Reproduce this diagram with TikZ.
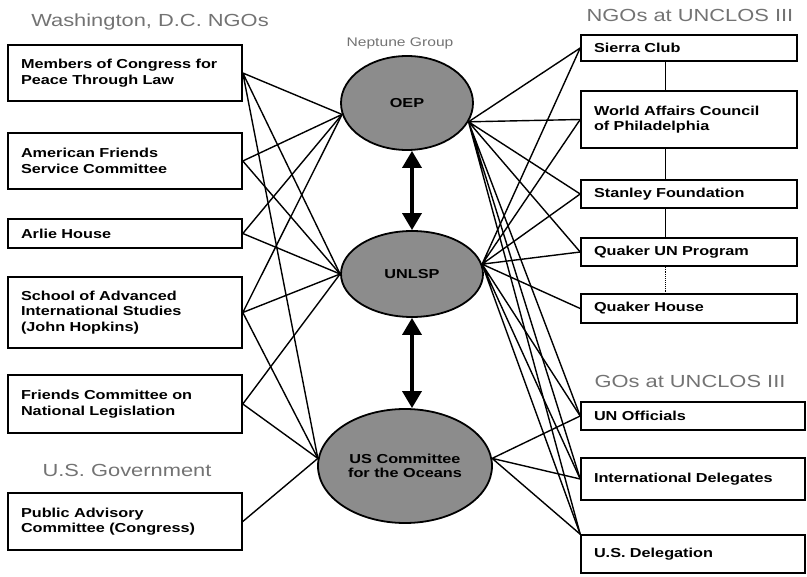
\documentclass[tikz,border=0pt]{standalone}
\usepackage{fontspec}
\setmainfont{Liberation Sans}[FakeStretch=1.25]
\usetikzlibrary{shapes.geometric, arrows.meta}

\begin{document}
\begin{tikzpicture} [x = 1pt, y = -1pt,
  box/.style = {draw, rectangle, line width = 1.6pt, inner xsep = 13pt, inner ysep = 0pt, align = left, font = \fontsize{13}{15.5}\selectfont\bfseries},
  hub/.style = {draw, ellipse, line width = 1.8pt, fill = black!45, inner sep = 0pt, align = center, font = \fontsize{13}{14}\selectfont\bfseries},
  head/.style = {anchor = base, inner sep = 0pt, text = black!55, font = \fontsize{17.5}{20}\selectfont},
  link/.style = {line width = 1.4pt},
  twoway/.style = {line width = 3.5pt, {Triangle[width = 19pt, length = 17pt]}-{Triangle[width = 19pt, length = 17pt]}}]
\useasboundingbox (0,0) rectangle (807,577);
\node[head] (t1) at (150,27) {Washington, D.C. NGOs};
\node[head, font = \fontsize{12.5}{14}\selectfont] (t2) at (400,47) {Neptune Group};
\node[head] (t3) at (690,22) {NGOs at UNCLOS III};
\node[head] (t4) at (690,388) {GOs at UNCLOS III};
\node[head] (t5) at (127,477) {U.S. Government};
% Washington groups and the government
\node[box, text width = 208pt, minimum height = 56pt] (w1) at (125,73) {Members of Congress for\\Peace Through Law};
\node[box, text width = 208pt, minimum height = 56pt] (w2) at (125,161) {American Friends\\Service Committee};
\node[box, text width = 208pt, minimum height = 29pt] (w3) at (125,233.5) {Arlie House};
\node[box, text width = 208pt, minimum height = 71pt] (w4) at (125,312.5) {School of Advanced\\International Studies\\(John Hopkins)};
\node[box, text width = 208pt, minimum height = 58pt] (w5) at (125,404) {Friends Committee on\\National Legislation};
\node[box, text width = 208pt, minimum height = 57pt] (g1) at (125,521.5) {Public Advisory\\Committee (Congress)};
% Neptune group
\node[hub, minimum width = 132pt, minimum height = 94pt] (n1) at (407,103) {OEP};
\node[hub, minimum width = 142pt, minimum height = 86pt] (n2) at (412,274) {UNLSP};
\node[hub, minimum width = 174pt, minimum height = 114pt] (n3) at (405,466) {US Committee\\for the Oceans};
% at UNCLOS III
\node[box, text width = 190pt, minimum height = 26pt] (u1) at (689,48) {Sierra Club};
\node[box, text width = 190pt, minimum height = 57pt] (u2) at (689,119.5) {World Affairs Council\\of Philadelphia};
\node[box, text width = 190pt, minimum height = 28pt] (u3) at (689,194) {Stanley Foundation};
\node[box, text width = 190pt, minimum height = 28pt] (u4) at (689,252) {Quaker UN Program};
\node[box, text width = 190pt, minimum height = 29pt] (u5) at (689,308.5) {Quaker House};
\node[box, text width = 198pt, minimum height = 28pt] (o1) at (693,416) {UN Officials};
\node[box, text width = 198pt, minimum height = 42pt] (o2) at (693,479) {International Delegates};
\node[box, text width = 198pt, minimum height = 38pt] (o3) at (693,554) {U.S. Delegation};

\draw[line width = 0.9pt] ([xshift = 85pt]u1.south west) -- ([xshift = 85pt]u2.north west);
\draw[line width = 0.9pt] ([xshift = 85pt]u2.south west) -- ([xshift = 85pt]u3.north west);
\draw[line width = 0.9pt] ([xshift = 85pt]u3.south west) -- ([xshift = 85pt]u4.north west);
\draw[line width = 0.9pt, densely dotted] ([xshift = 85pt]u4.south west) -- ([xshift = 85pt]u5.north west);

\draw[link] (w1.east) -- (n1.190) (w1.east) -- (n2.west) (w1.east) -- (n3.175);
\draw[link] (w2.east) -- (n1.190) (w2.east) -- (n2.west);
\draw[link] (w3.east) -- (n1.190) (w3.east) -- (n2.west);
\draw[link] (w4.east) -- (n1.190) (w4.east) -- (n2.west) (w4.east) -- (n3.175);
\draw[link] (w5.east) -- (n2.west) (w5.east) -- (n3.175);
\draw[link] (g1.east) -- (n3.175);

\draw[link] (n1.343) -- (u1.west) (n1.343) -- (u2.west) (n1.343) -- (u3.west) (n1.343) -- (u4.west);
\draw[link] (n1.343) -- (o1.west) (n1.343) -- (o2.west) (n1.343) -- (o3.north west);
\draw[link] (n2.8) -- (u1.west) (n2.8) -- (u2.west) (n2.8) -- (u3.west) (n2.8) -- (u4.west) (n2.8) -- (u5.west);
\draw[link] (n2.8) -- (o1.west) (n2.8) -- (o2.west) (n2.8) -- (o3.north west);
\draw[link] (n3.5) -- (o1.west) (n3.5) -- (o2.west) (n3.5) -- (o3.north west);

\draw[twoway] (n1.south -| n2.north) -- (n2.north);
\draw[twoway] (n2.south) -- (n2.south |- n3.north);
\end{tikzpicture}
\end{document}
